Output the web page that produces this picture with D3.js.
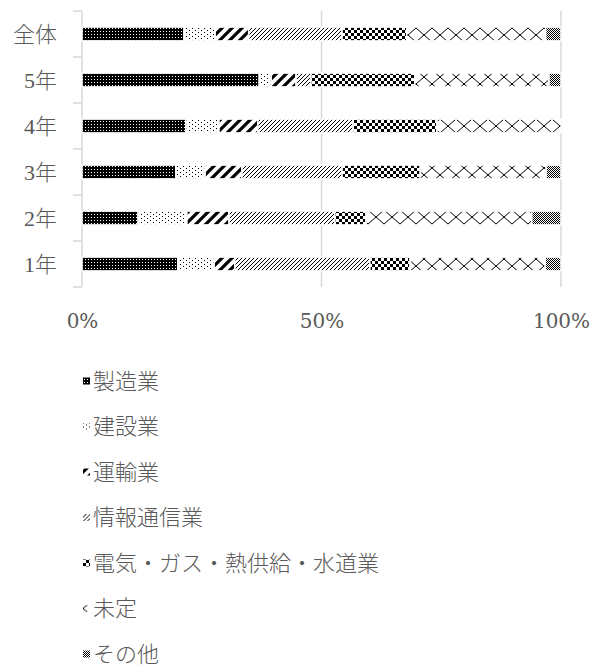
<!DOCTYPE html>
<html><head><meta charset="utf-8">
<script src="https://cdn.jsdelivr.net/npm/d3@7"></script>
<style>body{margin:0;background:#fff}</style>
</head><body><svg id="c" width="605" height="670"></svg>
<script>
// Shares by year group (percent)
const categories = ["全体", "5年", "4年", "3年", "2年", "1年"];
const industries = ["製造業", "建設業", "運輸業", "情報通信業", "電気・ガス・熱供給・水道業", "未定", "その他"];
const manufacturing = [21.3, 37.0, 21.7, 19.6, 11.7, 20.0];
const construction  = [6.5, 2.5, 6.9, 6.1, 10.2, 7.6];
const transport     = [7.0, 5.2, 8.1, 7.7, 8.8, 4.3];
const infoComm      = [19.5, 3.1, 19.9, 20.9, 22.1, 28.2];
const utilities     = [13.5, 21.7, 17.5, 16.3, 6.5, 8.4];
const undecided     = [29.0, 28.0, 25.9, 26.3, 34.6, 28.2];
const other         = [3.2, 2.5, 0.0, 3.1, 6.1, 3.3];
const xTicks = [0, 0.5, 1];

const seriesValues = [manufacturing, construction, transport, infoComm, utilities, undecided, other];
const rows = categories.map((c, i) => {
  const r = {category: c};
  industries.forEach((k, j) => r[k] = seriesValues[j][i]);
  return r;
});

const svg = d3.select("#c");
const font = "'Liberation Serif','Noto Sans CJK JP',serif";
const tickFont = "'DejaVu Serif','Liberation Serif',serif";
const grey = "#595959";

// ---- fill patterns ----
const defs = svg.append("defs");
function pat(id, w, h, draw) {
  const p = defs.append("pattern").attr("id", id).attr("patternUnits", "userSpaceOnUse")
    .attr("width", w).attr("height", h);
  p.append("rect").attr("width", w).attr("height", h).attr("fill", "#fff");
  draw(p);
}
// dense grid (black with white pinholes)
pat("p0", 3, 3, p => {
  p.append("rect").attr("width", 3).attr("height", 3).attr("fill", "#000");
  p.append("rect").attr("x", 1).attr("y", 1).attr("width", 1).attr("height", 1).attr("fill", "#fff");
});
// sparse dots
pat("p1", 6, 4, p => {
  p.append("rect").attr("x", 0).attr("y", 0).attr("width", 1).attr("height", 1).attr("fill", "#000");
  p.append("rect").attr("x", 3).attr("y", 2).attr("width", 1).attr("height", 1).attr("fill", "#000");
});
// wide upward diagonal
pat("p2", 10, 10, p => {
  p.append("path").attr("d", "M-2,12 L12,-2 M-7,7 L7,-7 M3,17 L17,3")
    .attr("stroke", "#000").attr("stroke-width", 3.2);
});
// light upward diagonal
pat("p3", 4, 4, p => {
  p.append("path").attr("d", "M0,4 L4,0 M-1,1 L1,-1 M3,5 L5,3")
    .attr("stroke", "#000").attr("stroke-width", 1);
});
// checkerboard
pat("p4", 6, 6, p => {
  p.append("rect").attr("x", 0).attr("y", 0).attr("width", 3).attr("height", 3).attr("fill", "#000");
  p.append("rect").attr("x", 3).attr("y", 3).attr("width", 3).attr("height", 3).attr("fill", "#000");
});
// trellis of crossing lines
pat("p5", 16, 14, p => {
  p.append("path").attr("d", "M0,0 L16,14 M16,0 L0,14")
    .attr("stroke", "#000").attr("stroke-width", 1);
});
// fine checker
pat("p6", 2, 2, p => {
  p.append("rect").attr("x", 0).attr("y", 0).attr("width", 1).attr("height", 1).attr("fill", "#000");
  p.append("rect").attr("x", 1).attr("y", 1).attr("width", 1).attr("height", 1).attr("fill", "#000");
});
const fillOf = d3.scaleOrdinal().domain(industries).range(industries.map((_, i) => `url(#p${i})`));

// ---- scales ----
const x = d3.scaleLinear().domain([0, 1]).range([82, 561]);
const y = d3.scaleBand().domain(categories).range([11, 287]).paddingInner(0.7).paddingOuter(0.35);

// gridlines
svg.append("g").selectAll("line").data(xTicks).join("line")
  .attr("x1", d => x(d)).attr("x2", d => x(d)).attr("y1", 11).attr("y2", 287)
  .attr("stroke", "#d9d9d9").attr("stroke-width", 1.5);

// category separator ticks on the left axis
const seps = d3.range(categories.length + 1).map(i => 11 + i * (276 / categories.length));
svg.append("g").selectAll("line").data(seps).join("line")
  .attr("x1", x(0) - 9).attr("x2", x(0)).attr("y1", d => d).attr("y2", d => d)
  .attr("stroke", "#d9d9d9").attr("stroke-width", 1.5);

// stacked bars
const stack = d3.stack().keys(industries).offset(d3.stackOffsetExpand);
const layers = stack(rows);
svg.append("g").selectAll("g").data(layers).join("g")
  .attr("fill", d => fillOf(d.key))
  .selectAll("rect").data(d => d).join("rect")
  .attr("x", d => x(d[0]))
  .attr("width", d => Math.max(0, x(d[1]) - x(d[0])))
  .attr("y", d => y(d.data.category))
  .attr("height", y.bandwidth())
  .attr("stroke", "#fff").attr("stroke-width", 1.5);

// category labels
svg.append("g").selectAll("text").data(categories).join("text")
  .attr("x", 57).attr("y", d => y(d) + y.bandwidth() / 2)
  .attr("text-anchor", "end").attr("dominant-baseline", "central")
  .attr("font-family", font).attr("font-weight", 300).attr("font-size", 22).attr("fill", grey)
  .text(d => d);

// x axis labels
const xAxis = d3.axisBottom(x).tickValues(xTicks).tickFormat(d3.format(".0%")).tickSize(0).tickPadding(0);
const gx = svg.append("g").attr("transform", "translate(0,314)").call(xAxis);
gx.select(".domain").remove();
gx.selectAll("text").attr("font-family", tickFont).attr("font-size", 20).attr("fill", grey)
  .attr("dy", "0.35em").attr("y", 7);

// legend
const lg = svg.append("g").selectAll("g").data(industries).join("g")
  .attr("transform", (d, i) => `translate(83,${381 + i * 45.5})`);
lg.append("rect").attr("x", 0).attr("y", -3.5).attr("width", 7).attr("height", 7)
  .attr("fill", d => fillOf(d));
lg.append("text").attr("x", 10).attr("y", 0).attr("dominant-baseline", "central")
  .attr("font-family", font).attr("font-weight", 300).attr("font-size", 22).attr("fill", grey).text(d => d);
</script></body></html>
